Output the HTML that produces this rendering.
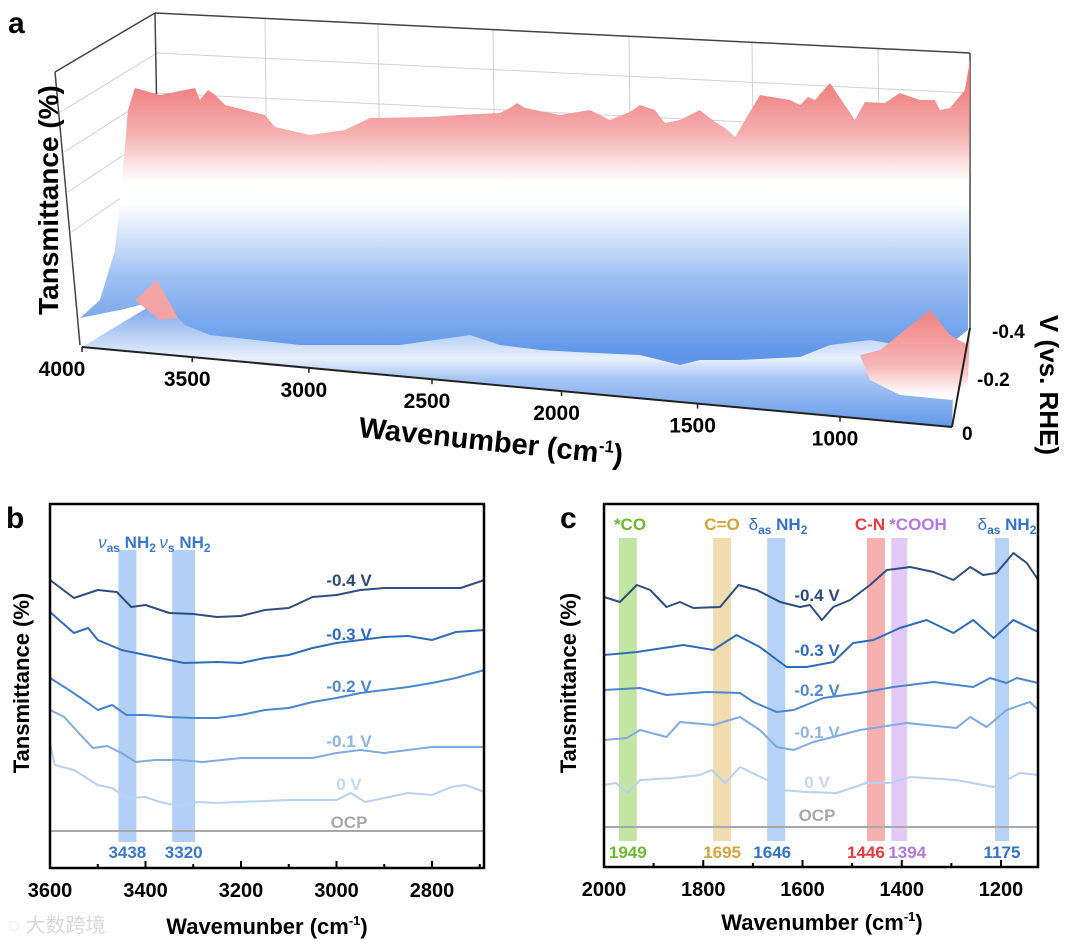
<!DOCTYPE html>
<html><head><meta charset="utf-8">
<style>
html,body{margin:0;padding:0;background:#fff;}
svg{display:block;font-family:"Liberation Sans","Noto Sans CJK SC",sans-serif;}
.b{font-weight:bold;}
</style></head>
<body>
<svg id="fig" width="1080" height="945" viewBox="0 0 1080 945" xmlns="http://www.w3.org/2000/svg">
<defs>
<linearGradient id="faceGrad" gradientUnits="userSpaceOnUse" x1="0" y1="85" x2="0" y2="355">
<stop offset="0" stop-color="#f07f80"/>
<stop offset="0.18" stop-color="#f5b0b0"/>
<stop offset="0.3" stop-color="#fbe6e6"/>
<stop offset="0.36" stop-color="#ffffff"/>
<stop offset="0.44" stop-color="#ffffff"/>
<stop offset="0.55" stop-color="#d8e5fa"/>
<stop offset="0.72" stop-color="#9bbff2"/>
<stop offset="1" stop-color="#5f96e8"/>
</linearGradient>
<linearGradient id="floorGrad" gradientUnits="userSpaceOnUse" x1="0" y1="300" x2="0" y2="430">
<stop offset="0" stop-color="#6d9fea"/>
<stop offset="0.45" stop-color="#e8f0fc"/>
<stop offset="0.6" stop-color="#a9c6f3"/>
<stop offset="1" stop-color="#5f95e7"/>
</linearGradient>
<linearGradient id="redHump" gradientUnits="userSpaceOnUse" x1="0" y1="320" x2="0" y2="395">
<stop offset="0" stop-color="#f08a8a"/>
<stop offset="0.6" stop-color="#f6b6b6"/>
<stop offset="1" stop-color="#ffffff"/>
</linearGradient>
</defs>

<!-- Panel a -->
<g id="panelA">
<text x="8" y="33" class="b" font-size="30">a</text>
<g id="aGrid" stroke="#d0d0d0" stroke-width="1" fill="none"></g>
<g stroke="#444" stroke-width="1.5" fill="none">
<line x1="155" y1="13" x2="970" y2="53"/>
<line x1="55" y1="72" x2="155" y2="13"/>
<line x1="155" y1="13" x2="160" y2="290"/>
<line x1="55" y1="72" x2="80" y2="345"/>
<line x1="970" y1="53" x2="970" y2="328"/>
</g>
<g id="aSurface"></g>
<line x1="82" y1="347" x2="952" y2="427" stroke="#222" stroke-width="2"/>
<line x1="970" y1="328" x2="952" y2="427" stroke="#222" stroke-width="2"/>
<g id="aTicks"></g>
<text transform="translate(358,437) rotate(6)" class="b" font-size="29">Wavenumber (cm<tspan font-size="17" dy="-11">-1</tspan><tspan dy="11">)</tspan></text>
<text transform="translate(58,200) rotate(-90)" text-anchor="middle" class="b" font-size="28">Tansmittance (%)</text>
<text x="992" y="338" class="b" font-size="19">-0.4</text>
<text x="977" y="386" class="b" font-size="19">-0.2</text>
<text x="962" y="440" class="b" font-size="19">0</text>
<text transform="translate(1040,385) rotate(90)" text-anchor="middle" class="b" font-size="26">V (vs. RHE)</text>
</g>

<!-- Panel b -->
<g id="panelB">
<text x="6" y="528" class="b" font-size="30">b</text>
<g id="bBands"></g>
<g id="bLines"></g>
<g id="bTicks"></g>
<rect x="50" y="504" width="434" height="364" fill="none" stroke="#000" stroke-width="2.5"/>
<text x="267" y="934" text-anchor="middle" class="b" font-size="22">Wavemunber (cm<tspan font-size="13" dy="-9">-1</tspan><tspan dy="9">)</tspan></text>
<text transform="translate(29,683) rotate(-90)" text-anchor="middle" class="b" font-size="22">Tansmittance (%)</text>
<text x="8" y="932" font-size="20" fill="#d8d8d8">◌ 大数跨境</text>
</g>

<!-- Panel c -->
<g id="panelC">
<text x="560" y="528" class="b" font-size="30">c</text>
<g id="cBands"></g>
<g id="cLines"></g>
<g id="cTicks"></g>
<rect x="604" y="504" width="434" height="363" fill="none" stroke="#000" stroke-width="2.5"/>
<text x="822" y="930" text-anchor="middle" class="b" font-size="22">Wavenumber (cm<tspan font-size="13" dy="-9">-1</tspan><tspan dy="9">)</tspan></text>
<text transform="translate(576,683) rotate(-90)" text-anchor="middle" class="b" font-size="22">Tansmittance (%)</text>
</g>
</svg>

<script>
// ---------- Panel a data ----------
const aTickLabels = [4000, 3500, 3000, 2500, 2000, 1500, 1000];
const aProfileWn = [3782,3689,3597,3560,3542,3512,3486,3449,3302,3265,3136,3007,2914,2693,2582,2435,2398,2372,2342,2213,2103,2029,1955,1918,1863,1826,1770,1697,1641,1604,1567,1475,1364,1327,1298,1272,1217,1162,1125,1088,1014,959,885,830,811,774,719,700];
const aProfileT = [272,265,270,272,260,270,265,255,245,233,225,230,242,243,245,247,252,257,252,245,250,240,248,255,250,237,240,250,238,232,223,265,260,255,263,260,277,255,240,258,257,267,260,260,250,252,270,300];

// ---------- Panel b data ----------
const bBandWn = [3438, 3320];
const bBandW = [18, 23];
const bSeriesNames = ['-0.4 V','-0.3 V','-0.2 V','-0.1 V','0 V','OCP'];
const bWn04 = [3600,3550,3500,3460,3430,3400,3350,3300,3250,3200,3150,3100,3050,3000,2950,2900,2800,2740,2690];
const bV04  = [288,270,278,276,261,263,255,254,251,252,258,260,271,273,278,280,280,280,288];
const bWn03 = [3600,3550,3520,3500,3450,3400,3350,3320,3250,3200,3150,3100,3050,3000,2950,2900,2850,2800,2750,2690];
const bV03  = [256,235,240,228,218,213,208,205,206,205,210,213,220,225,228,231,232,228,236,238];
const bWn02 = [3600,3560,3520,3500,3470,3440,3400,3350,3300,3250,3200,3150,3100,3050,3000,2950,2900,2850,2800,2750,2690];
const bV02  = [190,178,165,158,163,153,153,151,150,150,153,158,160,166,170,175,178,181,185,190,198];
const bWn01 = [3600,3570,3540,3510,3480,3450,3420,3380,3330,3280,3200,3100,3050,3000,2950,2900,2800,2750,2690];
const bV01  = [158,151,135,120,122,115,106,108,108,106,110,110,110,115,118,115,121,121,121];
const bWn00 = [3600,3590,3550,3500,3470,3440,3400,3370,3330,3290,3250,3100,3000,2970,2940,2850,2800,2760,2730,2690];
const bV00  = [125,103,98,83,80,70,71,66,62,66,65,68,68,75,66,75,73,81,83,76];
const bWnOCP = [3600,3400,3200,3000,2800,2690];
const bVOCP  = [37,37,37,37,37,37];
const bTicks = [3600,3400,3200,3000,2800];

// ---------- Panel c data ----------
const cBandWn = [1952,1762,1653,1452,1405,1198];
const cBandLabels = ['1949','1695','1646','1446','1394','1175'];
const cBandW = [18,18,18,18,16,14];
const cWn04 = [2000,1968,1934,1907,1874,1847,1820,1766,1729,1692,1645,1605,1585,1561,1538,1504,1464,1430,1383,1336,1296,1262,1236,1209,1175,1148,1125];
const cV04  = [270,265,282,277,260,265,259,260,282,277,265,260,262,247,260,267,282,297,300,295,287,300,292,294,314,304,287];
const cWn03 = [2000,1934,1840,1780,1733,1686,1632,1592,1538,1498,1457,1404,1350,1296,1256,1215,1175,1125];
const cV03  = [212,215,222,217,232,220,200,200,205,224,227,239,247,234,247,229,247,235];
const cWn02 = [2000,1927,1874,1793,1726,1699,1652,1618,1558,1484,1417,1336,1256,1222,1189,1168,1125];
const cV02  = [177,179,172,175,174,165,155,157,169,174,180,185,180,189,184,189,184];
const cWn01 = [2000,1954,1927,1874,1847,1780,1726,1686,1652,1618,1578,1484,1390,1290,1262,1229,1189,1142,1125];
const cV01  = [127,129,137,130,145,142,150,137,120,117,125,137,144,139,150,140,157,165,157];
const cWn00 = [2000,1976,1953,1927,1860,1807,1783,1756,1726,1672,1645,1592,1531,1471,1424,1383,1290,1215,1162,1125];
const cV00  = [82,84,74,87,89,92,97,84,100,87,77,75,74,84,84,90,87,80,94,92];
const cWnOCP = [2000,1800,1600,1400,1200,1125];
const cVOCP  = [40,40,40,40,40,40];
const cTicks = [2000,1800,1600,1400,1200];

const NS = 'http://www.w3.org/2000/svg';
function mk(tag, attrs, parent){const e=document.createElementNS(NS,tag);for(const k in attrs)e.setAttribute(k,attrs[k]);parent.appendChild(e);return e;}

// ---------- Panel a drawing ----------
(function(){
  const g = document.getElementById('aSurface');
  const grid = document.getElementById('aGrid');
  [265,378,493,629,752,878].forEach(function(x){
    const t=(x-155)/815; const y=13+t*40;
    const l=mk('line',{x1:x,y1:y,x2:x+3,y2:y+250},grid);
    
    
  });
  [40,80,120,160].forEach(function(d){
    const l=mk('line',{x1:157,y1:13+d,x2:970,y2:53+d},grid);
    
    
    const l2=mk('line',{x1:57+d*0.09,y1:72+d,x2:157,y2:13+d},grid);
    
    
  });
  const floor=mk('polygon',{points:'82,347 160,300 955,325 952,427',fill:'url(#floorGrad)'},g);
  
  
  const fx = wn => 130 + (3800-wn)*(840/3100);
  const fy = t => 360 - t;
  let pts = '80,318 100,300 115,250 122,180 128,110 ';
  for(let i=0;i<aProfileWn.length;i++) pts += fx(aProfileWn[i]).toFixed(1)+','+fy(aProfileT[i]).toFixed(1)+' ';
  pts += '968,330 940,352 900,345 870,340 830,345 800,357 740,360 700,360 680,365 640,355 575,352 540,350 500,345 470,335 400,345 300,345 210,335 185,325 160,300 120,310';
  const face=mk('polygon',{points:pts,fill:'url(#faceGrad)'},g);
  
  
  const hump=mk('polygon',{points:'880,350 905,330 930,310 950,335 968,345 970,328 968,380 952,400 900,395 870,380 860,355',fill:'url(#redHump)'},g);
  
  
  const hump2=mk('polygon',{points:'135,300 157,280 178,318 160,320',fill:'#f3a3a3'},g);
  
  
  const tg=document.getElementById('aTicks');
  const ex = wn => { const t=(4000-wn)/3000; return 82 + 642*t + 116*t*t; };
  const ey = x => 347 + (x-82)*(80/870);
  aTickLabels.forEach(function(wn,i){
    const x=ex(wn), y=ey(x);
    const tk=mk('line',{x1:x,y1:y,x2:x,y2:y+5,stroke:'#222','stroke-width':1.5},tg);
    
    
    const t=mk('text',{x:x-(i===0?20:5),y:y+29,'text-anchor':'middle','font-size':21,'font-weight':'bold'},tg);
    t.textContent=wn;
    
    
  });
})();

// ---------- Panel b/c drawing ----------
function drawPanel(cfg){
  const xs = wn => cfg.x0 + (cfg.wnMax-wn)*cfg.kx;
  const ys = v => cfg.yBottom - v;
  const bands=document.getElementById(cfg.id+'Bands');
  cfg.bandWn.forEach(function(wn,i){
    const r=mk('rect',{x:xs(wn)-cfg.bandW[i]/2,y:cfg.bandTop,width:cfg.bandW[i],height:cfg.bandBot-cfg.bandTop,fill:cfg.bandColors[i],opacity:0.55},bands);
    
    
    const t=mk('text',{x:xs(wn)+cfg.numDx[i],y:cfg.numY,'text-anchor':'middle','font-size':17,'font-weight':'bold',fill:cfg.bandText[i]},bands);
    t.textContent=cfg.bandLabels[i];
    
    
  });
  const lines=document.getElementById(cfg.id+'Lines');
  cfg.series.forEach(function(s,i){
    let d='';
    for(let j=0;j<s.wn.length;j++) d+=(j?'L':'M')+xs(s.wn[j]).toFixed(1)+','+ys(s.v[j]).toFixed(1);
    const p=mk('path',{d:d,fill:'none',stroke:cfg.colors[i],'stroke-width':2,'stroke-linejoin':'round'},lines);
    
    
    const t=mk('text',{x:cfg.labelX,y:cfg.labelY[i],'text-anchor':'middle','font-size':17,'font-weight':'bold',fill:cfg.labelColors[i]},lines);
    t.textContent=bSeriesNames[i];
    
    
  });
  const tk=document.getElementById(cfg.id+'Ticks');
  cfg.ticks.forEach(function(wn){
    const x=xs(wn);
    const l=mk('line',{x1:x,y1:cfg.yBottom,x2:x,y2:cfg.yBottom-7,stroke:'#000','stroke-width':2},tk);
    
    
    if(xs(wn-100) < cfg.x0+432){
      const m=mk('line',{x1:xs(wn-100),y1:cfg.yBottom,x2:xs(wn-100),y2:cfg.yBottom-4,stroke:'#000','stroke-width':2},tk);
      
      
    }
    const t=mk('text',{x:x,y:cfg.yBottom+29,'text-anchor':'middle','font-size':20,'font-weight':'bold'},tk);
    t.textContent=wn;
    
    
  });
}
const seriesColors=['#2d4e7e','#2f6cb8','#4a86d0','#80aae2','#b9d0f1','#a8a8a8'];
const labelColors=['#2c4a78','#2e6cc0','#4f88d4','#8db4e6','#c5d8f2','#a8a8a8'];
drawPanel({id:'b',x0:50,wnMax:3600,kx:382/800,yBottom:868,bandWn:bBandWn,bandW:bBandW,bandTop:550,bandBot:842,numY:858,numDx:[0,0],
  bandColors:['#76a8ec','#76a8ec'],bandText:['#3a78cc','#3a78cc'],bandLabels:['3438','3320'],
  series:[{wn:bWn04,v:bV04},{wn:bWn03,v:bV03},{wn:bWn02,v:bV02},{wn:bWn01,v:bV01},{wn:bWn00,v:bV00},{wn:bWnOCP,v:bVOCP}],
  colors:seriesColors,labelColors:labelColors,labelX:349,labelY:[586,640,692,747,790,828],ticks:bTicks});
drawPanel({id:'c',x0:604,wnMax:2000,kx:397/800,yBottom:867,bandWn:cBandWn,bandW:cBandW,bandTop:538,bandBot:841,numY:858,numDx:[0,0,-4,-10,8,0],
  bandColors:['#8fcf55','#e6c070','#7aaef0','#f07070','#c99ef0','#7aaef0'],bandText:['#6cb92e','#d6a232','#3272c8','#e83a3c','#b477e2','#3272c8'],bandLabels:cBandLabels,
  series:[{wn:cWn04,v:cV04},{wn:cWn03,v:cV03},{wn:cWn02,v:cV02},{wn:cWn01,v:cV01},{wn:cWn00,v:cV00},{wn:cWnOCP,v:cVOCP}],
  colors:seriesColors,labelColors:labelColors,labelX:817,labelY:[601,656,696,738,788,821],ticks:cTicks});

(function(){
  const g=document.getElementById('panelB');
  function head(parent,x,y,color,html,name){
    const t=mk('text',{x:x,y:y,'text-anchor':'middle','font-size':17,'font-weight':'bold',fill:color},parent);
    t.innerHTML=html;
    
    
  }
  head(g,127,548,'#3a78cc','<tspan font-style="italic" font-weight="normal">ν</tspan><tspan font-size="12" dy="4">as</tspan><tspan dy="-4"> NH</tspan><tspan font-size="12" dy="4">2</tspan>','band-heading-vas-nh2');
  head(g,185,548,'#3a78cc','<tspan font-style="italic" font-weight="normal">ν</tspan><tspan font-size="12" dy="4">s</tspan><tspan dy="-4"> NH</tspan><tspan font-size="12" dy="4">2</tspan>','band-heading-vs-nh2');
  const c=document.getElementById('panelC');
  head(c,630,530,'#6cb92e','*CO','band-heading-co');
  head(c,722,530,'#d6a232','C=O','band-heading-c-o');
  head(c,778,530,'#3272c8','<tspan font-weight="normal">δ</tspan><tspan font-size="12" dy="4">as</tspan><tspan dy="-4"> NH</tspan><tspan font-size="12" dy="4">2</tspan>','band-heading-das-nh2-1646');
  head(c,870,530,'#e83a3c','C-N','band-heading-c-n');
  head(c,918,530,'#b477e2','*COOH','band-heading-cooh');
  head(c,1007,530,'#3272c8','<tspan font-weight="normal">δ</tspan><tspan font-size="12" dy="4">as</tspan><tspan dy="-4"> NH</tspan><tspan font-size="12" dy="4">2</tspan>','band-heading-das-nh2-1175');
})();
</script>
</body></html>
